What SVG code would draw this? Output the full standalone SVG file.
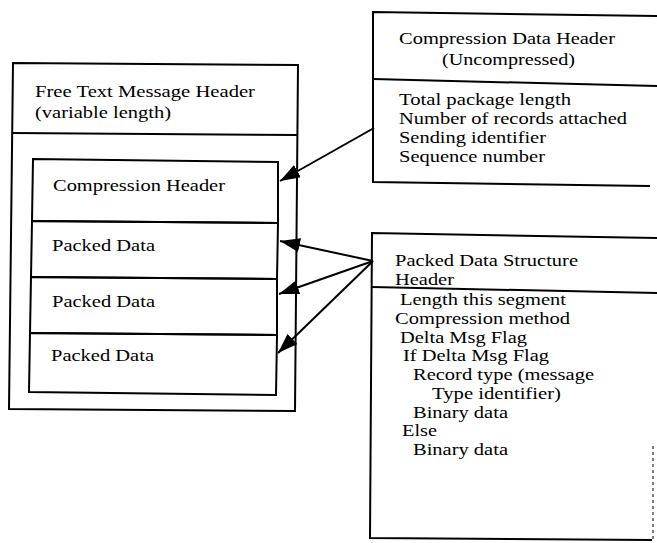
<svg xmlns="http://www.w3.org/2000/svg" width="657" height="543" viewBox="0 0 657 543">
<defs>
<marker id="ah" viewBox="0 0 20 14" refX="20" refY="7" markerWidth="20" markerHeight="14" markerUnits="userSpaceOnUse" orient="auto">
<path d="M0,0 L20,7 L0,14 z" fill="#000"/>
</marker>
<style>
.box{fill:none;stroke:#000;stroke-width:2;stroke-linejoin:miter}
.t{font-family:"Liberation Serif","Times New Roman",serif;font-size:17px;fill:#000}
.s{font-size:16.8px}
.c{stroke:#000;stroke-width:2;fill:none;marker-end:url(#ah)}
</style>
</defs>
<rect width="657" height="543" fill="#fff"/>
<g id="free-text-message">
<path class="box" d="M13,63 L298,65 L295,411 L9,409 Z"/>
<path class="box" d="M12,133 L297,135"/>
<text class="t" x="35" y="97" textLength="220" lengthAdjust="spacingAndGlyphs">Free Text Message Header</text>
<text class="t" x="35" y="118" textLength="136" lengthAdjust="spacingAndGlyphs">(variable length)</text>
</g>
<g id="compression-header">
<path class="box" d="M33,159 L278,162 L278,223 L32,221 Z"/>
<text class="t" x="53" y="191" textLength="172" lengthAdjust="spacingAndGlyphs">Compression Header</text>
</g>
<g id="packed-data-1">
<path class="box" d="M32,221 L278,223 L277,279 L31,277 Z"/>
<text class="t" x="52" y="251" textLength="103" lengthAdjust="spacingAndGlyphs">Packed Data</text>
</g>
<g id="packed-data-2">
<path class="box" d="M31,277 L277,279 L277,335 L30,333 Z"/>
<text class="t" x="52" y="307" textLength="103" lengthAdjust="spacingAndGlyphs">Packed Data</text>
</g>
<g id="packed-data-3">
<path class="box" d="M30,333 L277,335 L276,395 L29,392 Z"/>
<text class="t" x="51" y="361" textLength="103" lengthAdjust="spacingAndGlyphs">Packed Data</text>
</g>
<g id="compression-data-header">
<path class="box" d="M657,16 L373,12 L373,182 L650,186"/>
<path class="box" d="M373,79 L657,86"/>
<text class="t" x="399" y="44" textLength="216" lengthAdjust="spacingAndGlyphs">Compression Data Header</text>
<text class="t" x="442" y="65" textLength="133" lengthAdjust="spacingAndGlyphs">(Uncompressed)</text>
<text class="t" x="399" y="105" textLength="172" lengthAdjust="spacingAndGlyphs">Total package length</text>
<text class="t" x="399" y="124" textLength="228" lengthAdjust="spacingAndGlyphs">Number of records attached</text>
<text class="t" x="399" y="143" textLength="147" lengthAdjust="spacingAndGlyphs">Sending identifier</text>
<text class="t" x="399" y="162" textLength="146" lengthAdjust="spacingAndGlyphs">Sequence number</text>
</g>
<g id="packed-data-structure">
<path class="box" d="M657,238 L372,233 L370,538 L652,540"/>
<path class="box" d="M372,287 L657,293"/>
<path d="M653,446 L653,540" stroke="#000" stroke-width="1" stroke-dasharray="3,3" fill="none"/>
<text class="t" x="395" y="266" textLength="183" lengthAdjust="spacingAndGlyphs">Packed Data Structure</text>
<text class="t" x="395" y="285" textLength="59" lengthAdjust="spacingAndGlyphs">Header</text>
<text class="t s" x="400" y="305" textLength="166" lengthAdjust="spacingAndGlyphs">Length this segment</text>
<text class="t s" x="395" y="323.8" textLength="175" lengthAdjust="spacingAndGlyphs">Compression method</text>
<text class="t s" x="400" y="342.5" textLength="127" lengthAdjust="spacingAndGlyphs">Delta Msg Flag</text>
<text class="t s" x="403" y="361.3" textLength="146" lengthAdjust="spacingAndGlyphs">If Delta Msg Flag</text>
<text class="t s" x="413" y="380" textLength="181" lengthAdjust="spacingAndGlyphs">Record type (message</text>
<text class="t s" x="432" y="398.8" textLength="129" lengthAdjust="spacingAndGlyphs">Type identifier)</text>
<text class="t s" x="413" y="417.5" textLength="95" lengthAdjust="spacingAndGlyphs">Binary data</text>
<text class="t s" x="402" y="436.3" textLength="35" lengthAdjust="spacingAndGlyphs">Else</text>
<text class="t s" x="413" y="455" textLength="95" lengthAdjust="spacingAndGlyphs">Binary data</text>
</g>
<g id="connectors">
<line class="c" x1="374" y1="128" x2="280" y2="181"/>
<line class="c" x1="373" y1="261" x2="280" y2="241"/>
<line class="c" x1="373" y1="261" x2="279" y2="294"/>
<line class="c" x1="373" y1="261" x2="278" y2="353"/>
</g>
</svg>
